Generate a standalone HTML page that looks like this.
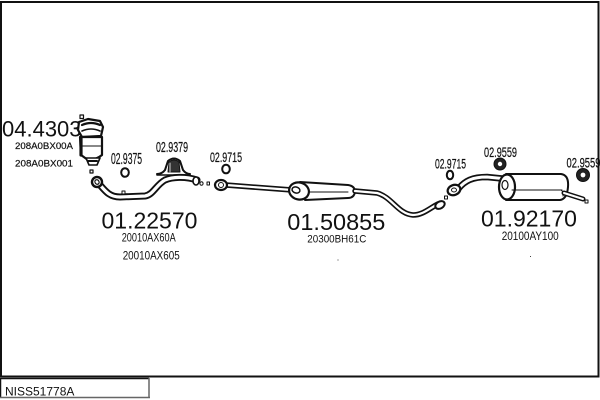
<!DOCTYPE html>
<html><head><meta charset="utf-8"><style>
html,body{margin:0;padding:0;background:#fff;}
svg{display:block;}
text{font-family:"Liberation Sans",Arial,sans-serif;fill:#111;}
</style></head><body>
<svg width="600" height="400" viewBox="0 0 600 400" xmlns="http://www.w3.org/2000/svg">
<rect x="0" y="0" width="600" height="400" fill="#fff"/>
<!-- frame -->
<rect x="1" y="2" width="597.5" height="374.5" fill="none" stroke="#111" stroke-width="2"/>
<!-- label box -->
<line x1="0.5" y1="378" x2="0.5" y2="398" stroke="#111" stroke-width="1.5"/>
<line x1="0" y1="378.5" x2="149" y2="378.5" stroke="#111" stroke-width="1.5"/>
<line x1="149" y1="378" x2="149" y2="398" stroke="#666" stroke-width="1.5"/>
<line x1="0" y1="397.5" x2="150" y2="397.5" stroke="#666" stroke-width="1.5"/>
<text x="5" y="395.5" font-size="12">NISS51778A</text>

<!-- labels -->
<text x="2" y="136.5" font-size="22">04.4303</text>
<text x="15" y="149" font-size="9.5" textLength="58" lengthAdjust="spacingAndGlyphs" stroke="#111" stroke-width="0.2">208A0BX00A</text>
<text x="15" y="166.5" font-size="9.5" textLength="58" lengthAdjust="spacingAndGlyphs" stroke="#111" stroke-width="0.2">208A0BX001</text>
<text x="111" y="164" font-size="15.5" textLength="31" lengthAdjust="spacingAndGlyphs" stroke="#111" stroke-width="0.2">02.9375</text>
<text x="156" y="152" font-size="15" textLength="32" lengthAdjust="spacingAndGlyphs" stroke="#111" stroke-width="0.2">02.9379</text>
<text x="210" y="162" font-size="14" textLength="32" lengthAdjust="spacingAndGlyphs" stroke="#111" stroke-width="0.2">02.9715</text>
<text x="435" y="168.5" font-size="14" textLength="31" lengthAdjust="spacingAndGlyphs" stroke="#111" stroke-width="0.2">02.9715</text>
<text x="484" y="157" font-size="14" textLength="33" lengthAdjust="spacingAndGlyphs" stroke="#111" stroke-width="0.2">02.9559</text>
<text x="566.5" y="167.5" font-size="14" textLength="34" lengthAdjust="spacingAndGlyphs" stroke="#111" stroke-width="0.2">02.9559</text>

<text x="101.5" y="228.3" font-size="23">01.22570</text>
<text x="121.7" y="241.7" font-size="11.5" textLength="54" lengthAdjust="spacingAndGlyphs">20010AX60A</text>
<text x="122.7" y="259.3" font-size="11.5" textLength="57" lengthAdjust="spacingAndGlyphs">20010AX605</text>
<text x="287.3" y="230" font-size="23.5">01.50855</text>
<text x="307.3" y="242.7" font-size="11" textLength="59" lengthAdjust="spacingAndGlyphs">20300BH61C</text>
<rect x="337.5" y="259.5" width="1" height="1" fill="#444"/>
<text x="481" y="226.7" font-size="23">01.92170</text>
<text x="501.7" y="240" font-size="11.5" textLength="57" lengthAdjust="spacingAndGlyphs">20100AY100</text>
<rect x="530" y="256" width="1" height="1" fill="#444"/>

<g stroke="#111" fill="#fff" stroke-linejoin="round" stroke-linecap="round">
<!-- catalyst -->
<rect x="80" y="115" width="3.5" height="3.5" stroke-width="1.2"/>
<path d="M79,122 L88,119 L100,121 L103,127 L101,136 L82,137 L78,130 Z" stroke-width="2.2"/>
<path d="M82,125 Q91,121 100,125" fill="none" stroke-width="2.2"/>
<path d="M82,131 Q91,127 100,131" fill="none" stroke-width="1.6"/>
<path d="M80,137 L102,137 L102,155 Q96,160 88,160 L81,155 Z" stroke-width="2.2"/>
<path d="M81,138 L81,155" stroke-width="3.2" fill="none"/>
<line x1="82" y1="146" x2="101" y2="146" stroke-width="1"/>
<path d="M86,158 L100,158 L97,165 L89,165 Z" stroke-width="1.6"/>
<path d="M88,161 L97,161" stroke-width="2" fill="none"/>
<rect x="90" y="170" width="3" height="3" stroke-width="1.2"/>

<!-- gasket 02.9375 -->
<ellipse cx="125" cy="172.5" rx="3.8" ry="4.3" stroke-width="2"/>

<!-- hanger 02.9379 -->
<path d="M157,174 Q162,174 165,170 L168,161 Q174,156 180,161 L183,170 Q186,174 190,174" fill="none" stroke-width="2"/>
<path d="M168,172 L169,162 Q174,158 179,162 L180,172 Z" fill="#333" stroke-width="1"/>
<line x1="170" y1="163" x2="170" y2="172" stroke="#fff" stroke-width="0.8"/>
<line x1="157" y1="175" x2="190" y2="175" stroke-width="1.5"/>

<!-- front pipe -->
<path d="M100,185 C106,192 110,197 120,197 L145,196 C153,195 156,185 165,180 C172,177 185,176 197,180" fill="none" stroke-width="7"/>
<path d="M100,185 C106,192 110,197 120,197 L145,196 C153,195 156,185 165,180 C172,177 185,176 197,180" fill="none" stroke="#fff" stroke-width="3.2"/>
<ellipse cx="97" cy="182" rx="5" ry="5" transform="rotate(-30 97 182)" stroke-width="2.4"/>
<ellipse cx="97" cy="182" rx="2" ry="2.4" transform="rotate(-30 97 182)" stroke-width="1.2"/>
<rect x="122" y="191" width="3" height="3" stroke-width="1"/>
<ellipse cx="196" cy="181" rx="3" ry="4" stroke-width="1.6"/>
<ellipse cx="201.5" cy="183.5" rx="1.6" ry="1.8" stroke-width="1"/>
<rect x="207" y="182" width="2.5" height="3" stroke-width="1"/>

<!-- gasket 02.9715 #1 -->
<ellipse cx="226" cy="169" rx="3.8" ry="4.3" stroke-width="2"/>

<!-- center pipe + muffler -->
<path d="M226,185 L292,190" fill="none" stroke-width="5.5"/>
<path d="M226,185 L292,190" fill="none" stroke="#fff" stroke-width="2.2"/>
<ellipse cx="221" cy="185" rx="6" ry="5" stroke-width="2.2"/>
<ellipse cx="221" cy="185" rx="2.5" ry="2.5" stroke-width="1"/>
<path d="M300,182 L348,185 Q355,186 355,192 Q354,198 348,198 L305,200 Z" stroke-width="2"/>
<ellipse cx="299" cy="191" rx="10" ry="8.5" transform="rotate(15 299 191)" stroke-width="2.2"/>
<ellipse cx="296" cy="190" rx="4" ry="3" transform="rotate(15 296 190)" stroke-width="1.5"/>
<line x1="310" y1="192" x2="348" y2="192" stroke-width="1"/>
<path d="M355,191 L377,193 C392,197 398,214 413,215 C423,215 430,208 438,204" fill="none" stroke-width="5.5"/>
<path d="M355,191 L377,193 C392,197 398,214 413,215 C423,215 430,208 438,204" fill="none" stroke="#fff" stroke-width="2.2"/>
<ellipse cx="440" cy="205" rx="5" ry="3.5" transform="rotate(-30 440 205)" stroke-width="2"/>
<rect x="444.5" y="196" width="3" height="3" stroke-width="1"/>

<!-- gasket 02.9715 #2 -->
<ellipse cx="450" cy="175" rx="3.2" ry="4.2" stroke-width="2"/>

<!-- rear pipe -->
<path d="M459,188 C465,181 472,177 487,177 L507,179" fill="none" stroke-width="6.5"/>
<path d="M459,188 C465,181 472,177 487,177 L507,179" fill="none" stroke="#fff" stroke-width="3"/>
<ellipse cx="454" cy="190" rx="6.5" ry="5" transform="rotate(-20 454 190)" stroke-width="2.2"/>
<ellipse cx="454" cy="190" rx="2.5" ry="2" stroke-width="1"/>
<!-- rear muffler -->
<path d="M506,174 L561,174 Q569,175 568,187 Q567,199 560,200 L506,200 Z" stroke-width="2"/>
<ellipse cx="507" cy="187" rx="8" ry="12.5" stroke-width="2.2"/>
<ellipse cx="505" cy="185" rx="3" ry="4.5" stroke-width="1.2"/>
<line x1="512" y1="190" x2="562" y2="190" stroke-width="1"/>
<path d="M561,190 Q564,192 563,196" fill="none" stroke-width="1"/>
<path d="M564,193 L583,199" fill="none" stroke-width="5"/>
<path d="M564,193 L583,199" fill="none" stroke="#fff" stroke-width="2"/>
<rect x="585" y="200" width="3" height="3" stroke-width="1"/>

<!-- rubber mounts 02.9559 -->
<circle cx="500" cy="164" r="6" fill="#222" stroke-width="1"/>
<circle cx="500" cy="164" r="2.2" fill="#fff" stroke="none"/>
<circle cx="583" cy="175" r="6.5" fill="#222" stroke-width="1"/>
<circle cx="583" cy="175" r="2.4" fill="#fff" stroke="none"/>
</g>
</svg>
</body></html>
